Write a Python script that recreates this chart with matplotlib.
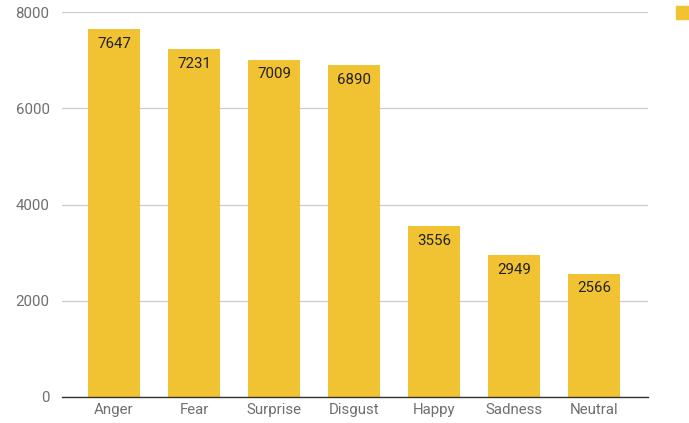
import matplotlib
matplotlib.use("Agg")
import matplotlib.pyplot as plt
from matplotlib.patches import Rectangle

categories = ["Anger", "Fear", "Surprise", "Disgust", "Happy", "Sadness", "Neutral"]
counts = [7647, 7231, 7009, 6890, 3556, 2949, 2566]
yticks = [0, 2000, 4000, 6000, 8000]

bar_color = "#F1C232"
plt.rcParams["font.family"] = ["Roboto", "DejaVu Sans"]

fig = plt.figure(figsize=(6.89, 4.23), dpi=100)
ax = fig.add_axes([0.09, 0.0615, 0.8505, 0.91])

x = list(range(len(categories)))
bars = ax.bar(x, counts, width=0.65, color=bar_color, zorder=2)
for b, v in zip(bars, counts):
    ax.annotate(str(v), (b.get_x() + b.get_width() / 2, v),
                xytext=(0, -5.5), textcoords="offset points",
                ha="center", va="top", fontsize=10.8, color="#222222", zorder=3)

ax.set_xlim(-0.65, 6.675)
ax.set_ylim(0, 8000)
ax.set_yticks(yticks)
ax.set_yticklabels([str(t) for t in yticks])
ax.set_xticks(x)
ax.set_xticklabels(categories)
ax.grid(axis="y", color="#cccccc", linewidth=0.9, zorder=0)
for s in ["top", "right", "left"]:
    ax.spines[s].set_visible(False)
ax.spines["bottom"].set_color("#333333")
ax.spines["bottom"].set_linewidth(1.0)
ax.spines["bottom"].set_zorder(4)
ax.tick_params(axis="both", length=0, labelsize=10.8, labelcolor="#6f6f6f")
ax.tick_params(axis="y", pad=9)
ax.tick_params(axis="x", pad=4)

# legend swatch at the right edge
fig.patches.append(Rectangle((676 / 689, 1 - 19 / 423), 13 / 689, 13 / 423,
                             transform=fig.transFigure, color=bar_color))

fig.savefig("out.png", dpi=100)
